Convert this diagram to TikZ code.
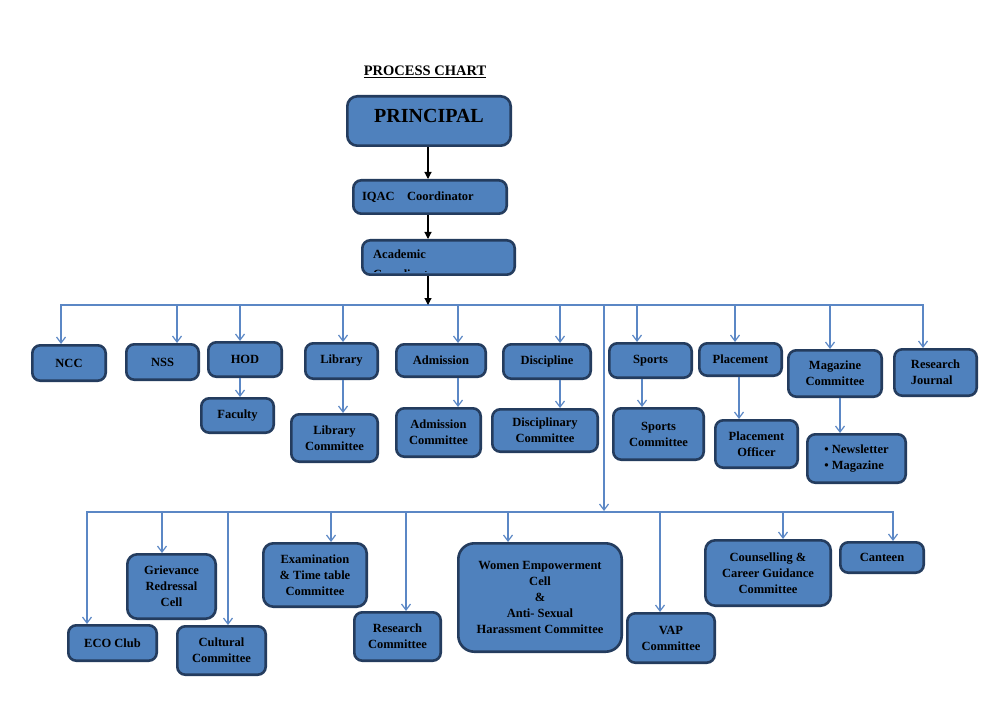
\documentclass[tikz,border=0pt]{standalone}
\usepackage{fontspec}
\setmainfont{Liberation Serif}
\usetikzlibrary{arrows.meta}
\definecolor{boxfill}{RGB}{79,129,189}
\definecolor{boxline}{RGB}{36,60,94}
\definecolor{conn}{RGB}{91,135,197}
\tikzset{
  orgbox/.style={draw=boxline, fill=boxfill, line width=2.6pt, rounded corners=8pt,
    inner sep=0pt, align=center, font=\fontsize{12.5}{16}\selectfont\bfseries, text=black},
  bline/.style={draw=conn, line width=1.2pt},
  barr/.style={bline, -{Straight Barb[length=6pt,width=9pt]}},
  karr/.style={draw=black, line width=1.1pt, -{Triangle[length=7pt,width=7pt]}},
  lbl/.style={inner sep=0pt, font=\fontsize{12.5}{16}\selectfont\bfseries, text=black}
}
% \orgnode[opts]{name}{x1}{y1}{x2}{y2}{text}
\newcommand\orgnode[7][]{%
  \node[orgbox,#1,minimum width={(#5-#3-2.6)*1pt},minimum height={(#6-#4-2.6)*1pt}]
    (#2) at ({(#3+#5)/2},{(#4+#6)/2}) {#7};}
\begin{document}
\begin{tikzpicture}[x=1pt,y=-1pt]
\useasboundingbox[fill=white] (0,0) rectangle (1000,708);

% title
\node[inner sep=0pt, font=\fontsize{14.5}{16}\selectfont\bfseries] (title) at (425,72) {\underline{PROCESS CHART}};

% top chain
\orgnode[rounded corners=10pt, font=\fontsize{20}{24}\selectfont\bfseries]{principal}{346}{95}{512}{147}{\raisebox{5pt}[\height][\depth]{PRINCIPAL}}
\orgnode[text width=136pt, align=left]{iqac}{352}{179}{508}{215}{IQAC~~~Coordinator}
\orgnode{acad}{361}{239}{516}{276}{}
\begin{scope}
  \clip (364,242) rectangle (513,272);
  \node[lbl, anchor=base west] (acadA) at (373,259) {Academic};
  \node[lbl, anchor=base west] (acadB) at (373,278.5) {Coordinator};
\end{scope}

% first row
\orgnode{ncc}{31}{344}{107}{382}{NCC}
\orgnode{nss}{125}{343}{200}{381}{NSS}
\orgnode{hod}{207}{341}{283}{378}{HOD}
\orgnode{fac}{200}{397}{275}{434}{Faculty}
\orgnode{lib}{304}{342}{379}{380}{Library}
\orgnode{libc}{290}{413}{379}{463}{Library\\Committee}
\orgnode{adm}{395}{343}{487}{378}{Admission}
\orgnode{admc}{395}{407}{482}{458}{Admission\\Committee}
\orgnode{disc}{502}{343}{592}{380}{Discipline}
\orgnode{discc}{491}{408}{599}{453}{Disciplinary\\Committee}
\orgnode{spo}{608}{342}{693}{379}{Sports}
\orgnode{spoc}{612}{407}{705}{461}{Sports\\Committee}
\orgnode{pla}{698}{342}{783}{377}{Placement}
\orgnode{plao}{714}{419}{799}{469}{Placement\\Officer}
\orgnode{mag}{787}{349}{883}{398}{Magazine\\Committee}
\orgnode[align=left]{news}{806}{433}{907}{484}{\textbullet\ Newsletter\\\textbullet\ Magazine}
\orgnode[align=left]{rj}{893}{348}{978}{397}{Research\\Journal}

% second row
\orgnode{eco}{67}{624}{158}{662}{ECO Club}
\orgnode[rounded corners=10pt]{grc}{126}{553}{217}{620}{Grievance\\Redressal\\Cell}
\orgnode{cul}{176}{625}{267}{676}{Cultural\\Committee}
\orgnode[rounded corners=10pt]{exam}{262}{542}{368}{608}{Examination\\\&~Time table\\Committee}
\orgnode{resc}{353}{611}{442}{662}{Research\\Committee}
\orgnode[rounded corners=16pt]{wec}{457}{542}{623}{653}{Women Empowerment\\Cell\\\&\\Anti- Sexual\\Harassment Committee}
\orgnode{vap}{626}{612}{716}{664}{VAP\\Committee}
\orgnode[rounded corners=10pt]{cou}{704}{539}{832}{607}{Counselling \&\\Career Guidance\\Committee}
\orgnode{can}{839}{541}{925}{574}{Canteen}

% black arrows
\coordinate (tA) at (428,305);
\draw[karr] (tA |- principal.south) -- (tA |- iqac.north);
\draw[karr] (tA |- iqac.south) -- (tA |- acad.north);

% top bus
\coordinate (tNCC) at (61,305);
\coordinate (tNSS) at (177,305);
\coordinate (tHOD) at (240,305);
\coordinate (tLIB) at (343,305);
\coordinate (tADM) at (458,305);
\coordinate (tDIS) at (560,305);
\coordinate (tJ)   at (604,305);
\coordinate (tSPO) at (637,305);
\coordinate (tPLA) at (735,305);
\coordinate (tMAG) at (830,305);
\coordinate (tRJ)  at (923,305);
\draw[bline, {Straight Barb[length=6pt,width=9pt]}-{Straight Barb[length=6pt,width=9pt]}]
  (tNCC |- ncc.north) -- (tNCC) -- (tRJ) -- (tRJ |- rj.north);
\draw[karr] (tA |- acad.south) -- (tA);
\foreach \t/\n in {tNSS/nss,tHOD/hod,tLIB/lib,tADM/adm,tDIS/disc,tSPO/spo,tPLA/pla,tMAG/mag}
  \draw[barr] (\t) -- (\t |- \n.north);

% sub arrows
\coordinate (sSPO) at (642,0);
\coordinate (sPLA) at (739,0);
\coordinate (sMAG) at (840,0);
\draw[barr] (tHOD |- hod.south) -- (tHOD |- fac.north);
\draw[barr] (tLIB |- lib.south) -- (tLIB |- libc.north);
\draw[barr] (tADM |- adm.south) -- (tADM |- admc.north);
\draw[barr] (tDIS |- disc.south) -- (tDIS |- discc.north);
\draw[barr] (sSPO |- spo.south) -- (sSPO |- spoc.north);
\draw[barr] (sPLA |- pla.south) -- (sPLA |- plao.north);
\draw[barr] (sMAG |- mag.south) -- (sMAG |- news.north);

% bottom bus
\coordinate (bJ)   at (604,512);
\coordinate (bECO) at (87,512);
\coordinate (bGRC) at (162,512);
\coordinate (bCUL) at (228,512);
\coordinate (bEX)  at (331,512);
\coordinate (bRES) at (406,512);
\coordinate (bWEC) at (508,512);
\coordinate (bVAP) at (660,512);
\coordinate (bCOU) at (783,512);
\coordinate (bCAN) at (893,512);
\draw[barr] (tJ) -- ([yshift=1pt]bJ);
\draw[bline, {Straight Barb[length=6pt,width=9pt]}-{Straight Barb[length=6pt,width=9pt]}]
  (bECO |- eco.north) -- (bECO) -- (bCAN) -- (bCAN |- can.north);
\foreach \t/\n in {bGRC/grc,bCUL/cul,bEX/exam,bRES/resc,bWEC/wec,bVAP/vap,bCOU/cou}
  \draw[barr] (\t) -- (\t |- \n.north);
\end{tikzpicture}
\end{document}
